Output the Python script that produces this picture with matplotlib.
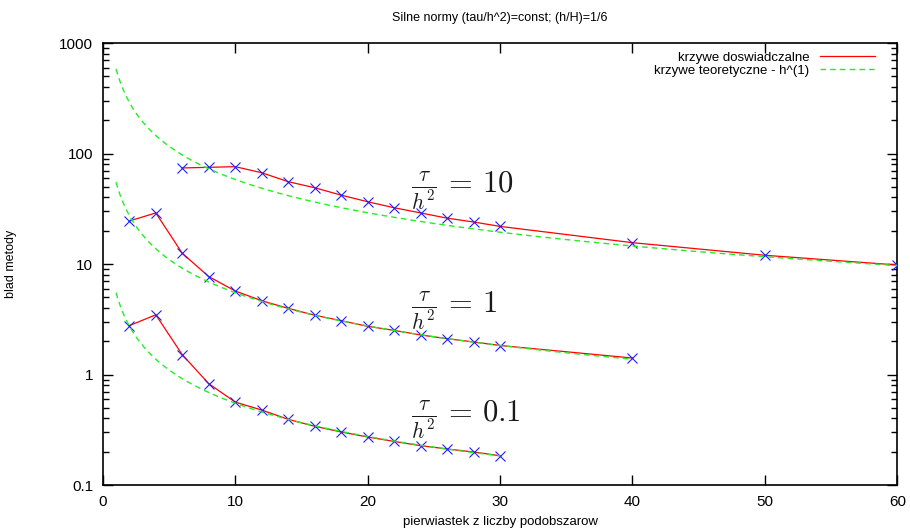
import numpy as np
import matplotlib.pyplot as plt
from matplotlib.ticker import FixedLocator, LogLocator, NullFormatter

plt.rcParams['font.family'] = ['Liberation Sans', 'DejaVu Sans']
plt.rcParams['mathtext.fontset'] = 'cm'

# bledy metody dla tau/h^2 = 10, 1, 0.1
x_10 = [6, 8, 10, 12, 14, 16, 18, 20, 22, 24, 26, 28, 30, 40, 50, 60]
err_10 = [74, 75, 76, 67, 55.6, 49, 42, 36.6, 32.3, 29, 26, 24, 21.9, 15.6, 12, 9.8]

x_1 = [2, 4, 6, 8, 10, 12, 14, 16, 18, 20, 22, 24, 26, 28, 30, 40]
err_1 = [24.5, 29, 12.5, 7.7, 5.7, 4.65, 3.97, 3.44, 3.07, 2.73, 2.51, 2.28, 2.11, 1.97, 1.83, 1.41]

x_01 = [2, 4, 6, 8, 10, 12, 14, 16, 18, 20, 22, 24, 26, 28, 30]
err_01 = [2.77, 3.47, 1.51, 0.826, 0.563, 0.477, 0.393, 0.340, 0.302, 0.272, 0.248, 0.227, 0.212, 0.199, 0.184]

# krzywe teoretyczne C*h, h = 1/n
coef = [582, 55, 5.5]
ranges = [(1, 60), (1, 40), (1, 30)]
labels = [r'$\frac{\tau}{h^2}\,=\,10$', r'$\frac{\tau}{h^2}\,=\,1$', r'$\frac{\tau}{h^2}\,=\,0.1$']
label_pos = [(23.3, 45.5), (23.3, 3.75), (23.3, 0.392)]

fig = plt.figure(figsize=(9.1, 5.31), dpi=100)
ax = fig.add_axes([0.113, 0.0866, 0.873, 0.8324])

first = True
for xs, ys in [(x_10, err_10), (x_1, err_1), (x_01, err_01)]:
    ax.plot(xs, ys, color='#ff0000', lw=0.9,
            label='krzywe doswiadczalne' if first else None, zorder=2)
    ax.plot(xs, ys, ls='none', marker='x', ms=7, mew=0.8, color='#2020ff', zorder=3)
    first = False

for i, (c, (a, b)) in enumerate(zip(coef, ranges)):
    n = np.linspace(a, b, 300)
    ax.plot(n, c / n, color='#22ee22', lw=1.0, ls=(0, (4, 3)),
            label='krzywe teoretyczne - h^(1)' if i == 0 else None, zorder=4)

for txt, (tx, ty) in zip(labels, label_pos):
    ax.text(tx, ty, txt, fontsize=22, va='center', ha='left', color='#1a1a1a')

ax.set_yscale('log')
ax.set_xlim(0, 60)
ax.set_ylim(0.1, 1000)
ax.set_xticks([0, 10, 20, 30, 40, 50, 60])
ax.yaxis.set_major_locator(FixedLocator([0.1, 1, 10, 100, 1000]))
ax.set_yticklabels(['0.1', '1', '10', '100', '1000'])
ax.yaxis.set_minor_locator(LogLocator(base=10, subs=np.arange(2, 10)))
ax.yaxis.set_minor_formatter(NullFormatter())
ax.tick_params(which='both', direction='in', top=True, right=True, labelsize=11, pad=7)
ax.tick_params(which='major', length=7, width=1)
ax.tick_params(which='minor', length=4, width=1)
for s in ax.spines.values():
    s.set_linewidth(1.2)

ax.set_title('Silne normy (tau/h^2)=const; (h/H)=1/6', fontsize=9, pad=16)
ax.set_xlabel('pierwiastek z liczby podobszarow', fontsize=9.5, labelpad=5)
ax.set_ylabel('blad metody', fontsize=9, labelpad=30)

ax.legend(loc='upper right', bbox_to_anchor=(0.979, 0.993), borderaxespad=0,
          frameon=False, markerfirst=False, fontsize=9.5,
          handlelength=4.2, labelspacing=0.05, handletextpad=0.8)

fig.savefig('out.png', dpi=100)
